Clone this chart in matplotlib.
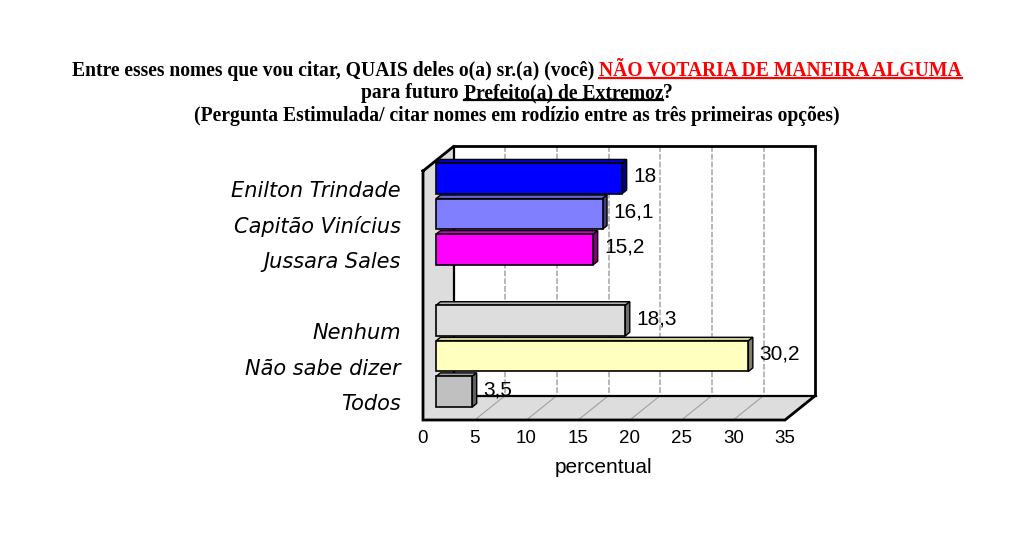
import matplotlib
matplotlib.use("Agg")
import matplotlib.pyplot as plt
from matplotlib.patches import Polygon
from matplotlib.lines import Line2D
from matplotlib.transforms import IdentityTransform
from matplotlib.colors import to_rgb

categories = ["Enilton Trindade", "Capitão Vinícius", "Jussara Sales",
              "Nenhum", "Não sabe dizer", "Todos"]
values = [18, 16.1, 15.2, 18.3, 30.2, 3.5]
value_labels = ["18", "16,1", "15,2", "18,3", "30,2", "3,5"]
bar_colors = ["#0000ff", "#8080ff", "#ff00ff", "#dddddd", "#ffffc0", "#c0c0c0"]
xticks = [0, 5, 10, 15, 20, 25, 30, 35]

title_lines = [
    [("Entre esses nomes que vou citar, QUAIS deles o(a) sr.(a) (você)", "black", False, True),
     ("NÃO VOTARIA DE MANEIRA ALGUMA", "#ff0000", True, False)],
    [("para futuro", "black", False, True),
     ("Prefeito(a) de Extremoz", "black", True, False),
     ("?", "black", False, False)],
    [("(Pergunta Estimulada/ citar nomes em rodízio entre as três primeiras opções)", "black", False, False)],
]

W, H = 1024, 554
fig = plt.figure(figsize=(W / 100, H / 100), dpi=100)

# front plane of the 3d box, in pixels
left, right, top, bottom = 423, 785, 171, 420
ax = fig.add_axes([left / W, (H - bottom) / H, (right - left) / W, (bottom - top) / H])
xmax = 35
nslots = len(categories) + 1
ax.set_xlim(0, xmax)
ax.set_ylim(nslots - 0.5, -0.5)
ax.patch.set_visible(False)
for s in ax.spines.values():
    s.set_visible(False)

# depth of the box (pixels right / up) converted to data units
px_x = (right - left) / xmax
px_y = (bottom - top) / nslots
DX = 30.5 / px_x
DY = 24.5 / px_y


def P(x, y, f):
    return (x + f * DX, y - f * DY)


y0, y1 = -0.5, nslots - 0.5
# back wall, left wall, floor
ax.add_patch(Polygon([P(0, y0, 1), P(xmax, y0, 1), P(xmax, y1, 1), P(0, y1, 1)],
                     closed=True, fc="white", ec="none", zorder=0.5, clip_on=False))
ax.add_patch(Polygon([P(0, y0, 0), P(0, y1, 0), P(0, y1, 1), P(0, y0, 1)],
                     closed=True, fc="#dddddd", ec="none", zorder=0.7, clip_on=False))
ax.add_patch(Polygon([P(0, y1, 0), P(xmax, y1, 0), P(xmax, y1, 1), P(0, y1, 1)],
                     closed=True, fc="#dddddd", ec="none", zorder=0.7, clip_on=False))

for t in xticks[1:-1]:
    xs, ys = zip(P(t, y0, 1), P(t, y1, 1))
    ax.add_line(Line2D(xs, ys, color="#b8b8b8", lw=1.4, ls=(0, (3, 1)), zorder=0.6, clip_on=False))
    xs, ys = zip(P(t, y1, 0), P(t, y1, 1))
    ax.add_line(Line2D(xs, ys, color="#a0a0a0", lw=0.8, zorder=0.8, clip_on=False))

edges = [
    ([P(0, y0, 0), P(0, y1, 0), P(xmax, y1, 0), P(xmax, y1, 1), P(xmax, y0, 1),
      P(0, y0, 1), P(0, y0, 0)], 2.0),
    ([P(0, y0, 1), P(0, y1, 1), P(xmax, y1, 1)], 1.6),
]
for pts, lw in edges:
    xs, ys = zip(*pts)
    ax.add_line(Line2D(xs, ys, color="black", lw=lw, zorder=0.9, clip_on=False,
                       solid_joinstyle="miter"))

# bars sit in the middle of the box depth
f0 = 13 / 30.5
fd = 4.5 / 30.5
h = 0.86
positions = [i if i < 3 else i + 1 for i in range(len(categories))]


def shade(c, k):
    r, g, b = to_rgb(c)
    return (r * k, g * k, b * k)


for p, v, c, lab in zip(positions, values, bar_colors, value_labels):
    yc = p - f0 * DY
    ax.barh(yc, v, left=f0 * DX, height=h, color=c, edgecolor="black", lw=1.2,
            zorder=3, clip_on=False)
    yt, yb = p - h / 2, p + h / 2
    ax.add_patch(Polygon([P(0, yt, f0), P(v, yt, f0), P(v, yt, f0 + fd), P(0, yt, f0 + fd)],
                         closed=True, fc=shade(c, 0.8), ec="black", lw=1.0, zorder=2.9,
                         clip_on=False))
    ax.add_patch(Polygon([P(v, yt, f0), P(v, yb, f0), P(v, yb, f0 + fd), P(v, yt, f0 + fd)],
                         closed=True, fc=shade(c, 0.5), ec="black", lw=1.0, zorder=2.9,
                         clip_on=False))
    ax.annotate(lab, xy=P(v, p, f0), xytext=(8, 1.5), textcoords="offset points",
                ha="left", va="center", fontsize=15, family="Liberation Sans", zorder=5)

ax.set_xticks(xticks)
ax.set_xticklabels([str(t) for t in xticks], fontsize=13.5, family="Liberation Sans")
ax.set_yticks(positions)
ax.set_yticklabels(categories, fontsize=15, family="DejaVu Sans", style="italic")
ax.tick_params(axis="x", length=0, pad=7)
ax.tick_params(axis="y", length=0, pad=16)
ax.set_xlabel("percentual", fontsize=15, family="Liberation Sans", labelpad=8)

# title with coloured / underlined pieces
renderer = fig.canvas.get_renderer()
tsize = 14.1
baselines = [75.7, 98.2, 120.7]
cx = 517
tprops = dict(fontsize=tsize, fontweight="bold", family="Liberation Serif")
sp = fig.text(0, 0, "a a", **tprops)
nsp = fig.text(0, 0, "aa", **tprops)
space_w = sp.get_window_extent(renderer).width - nsp.get_window_extent(renderer).width
sp.remove()
nsp.remove()
for parts, by in zip(title_lines, baselines):
    items = []
    total = 0
    for s, c, u, gap in parts:
        t = fig.text(0, H - by, s, color=c, ha="left", va="baseline",
                     transform=IdentityTransform(), **tprops)
        w = t.get_window_extent(renderer).width
        items.append((t, w, c, u))
        total += w + (space_w if gap else 0)
    x = cx - total / 2
    for (t, w, c, u), part in zip(items, parts):
        t.set_x(x)
        if u:
            fig.add_artist(Line2D([x, x + w], [H - by - 2, H - by - 2], color=c, lw=1.6,
                                  transform=IdentityTransform()))
        x += w + (space_w if part[3] else 0)

fig.savefig("out.png", dpi=100)
